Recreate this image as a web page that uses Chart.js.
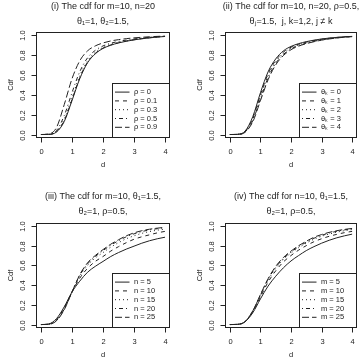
<!DOCTYPE html>
<html><head><meta charset="utf-8">
<script src="https://cdn.jsdelivr.net/npm/chart.js@4/dist/chart.umd.min.js"></script>
<style>
html,body{margin:0;padding:0;background:#fff}
body{width:360px;height:362px;position:relative;overflow:hidden}
canvas{position:absolute;display:block}
</style></head><body>
<canvas id="c1" width="180" height="190" style="left:0;top:0"></canvas>
<canvas id="c2" width="180" height="190" style="left:180px;top:0"></canvas>
<canvas id="c3" width="180" height="172" style="left:0;top:190px"></canvas>
<canvas id="c4" width="180" height="172" style="left:180px;top:190px"></canvas>
<script>
// ---- data ----
const dValues = [0,0.25,0.5,0.75,1,1.25,1.5,1.75,2,2.25,2.5,2.75,3,3.25,3.5,3.75,4];
const xTicks = [0,1,2,3,4];
const xTickLabels = ['0','1','2','3','4'];
const yTicks = [0,0.2,0.4,0.6,0.8,1.0];
const yTickLabels = ['0.0','0.2','0.4','0.6','0.8','1.0'];

// panel (i)
const rhoLabels = ['ρ = 0','ρ = 0.1','ρ = 0.3','ρ = 0.5','ρ = 0.9'];
const rho0  = [0,0.001,0.025,0.13,0.34,0.56,0.72,0.81,0.865,0.897,0.92,0.937,0.951,0.962,0.971,0.979,0.985];
const rho01 = [0,0.001,0.027,0.14,0.35,0.57,0.725,0.815,0.868,0.9,0.922,0.939,0.952,0.963,0.972,0.98,0.985];
const rho03 = [0,0.002,0.03,0.155,0.37,0.59,0.74,0.825,0.875,0.905,0.926,0.942,0.955,0.966,0.974,0.981,0.986];
const rho05 = [0,0.003,0.04,0.19,0.42,0.63,0.77,0.845,0.89,0.917,0.935,0.949,0.96,0.969,0.977,0.983,0.987];
const rho09 = [0,0.005,0.07,0.3,0.56,0.74,0.84,0.89,0.92,0.94,0.953,0.963,0.971,0.977,0.982,0.986,0.989];

// panel (ii)
const thetaLabels = ['θₖ = 0','θₖ = 1','θₖ = 2','θₖ = 3','θₖ = 4'];
const theta0 = [0,0.002,0.035,0.18,0.42,0.63,0.76,0.84,0.885,0.913,0.933,0.948,0.96,0.969,0.976,0.982,0.986];
const theta1 = [0,0.002,0.032,0.165,0.4,0.61,0.745,0.828,0.877,0.907,0.928,0.944,0.957,0.967,0.975,0.981,0.985];
const theta2 = [0,0.002,0.029,0.152,0.38,0.59,0.73,0.816,0.868,0.9,0.923,0.94,0.954,0.965,0.973,0.98,0.985];
const theta3 = [0,0.001,0.026,0.14,0.36,0.57,0.715,0.804,0.86,0.894,0.918,0.936,0.951,0.962,0.971,0.979,0.984];
const theta4 = [0,0.001,0.023,0.128,0.34,0.55,0.7,0.793,0.852,0.888,0.913,0.932,0.948,0.96,0.97,0.978,0.983];

// panel (iii)
const nLabels = ['n = 5','n = 10','n = 15','n = 20','n = 25'];
const n5  = [0,0.006,0.06,0.18,0.33,0.44,0.53,0.59,0.64,0.69,0.73,0.765,0.795,0.825,0.85,0.87,0.886];
const n10 = [0,0.004,0.05,0.17,0.33,0.47,0.57,0.64,0.69,0.745,0.79,0.83,0.865,0.89,0.91,0.93,0.945];
const n15 = [0,0.003,0.045,0.16,0.33,0.49,0.6,0.675,0.73,0.785,0.83,0.87,0.9,0.925,0.943,0.957,0.968];
const n20 = [0,0.003,0.04,0.155,0.33,0.5,0.615,0.69,0.75,0.805,0.85,0.89,0.92,0.943,0.96,0.972,0.98];
const n25 = [0,0.002,0.038,0.15,0.33,0.505,0.625,0.7,0.76,0.815,0.86,0.9,0.93,0.952,0.967,0.978,0.986];

// panel (iv)
const mLabels = ['m = 5','m = 10','m = 15','m = 20','m = 25'];
const m5  = [0,0.002,0.03,0.12,0.26,0.39,0.49,0.575,0.645,0.7,0.75,0.79,0.825,0.855,0.88,0.9,0.917];
const m10 = [0,0.002,0.03,0.13,0.28,0.43,0.545,0.635,0.7,0.755,0.8,0.84,0.87,0.895,0.915,0.932,0.945];
const m15 = [0,0.002,0.03,0.135,0.29,0.45,0.57,0.66,0.725,0.78,0.825,0.865,0.895,0.918,0.937,0.952,0.963];
const m20 = [0,0.002,0.03,0.14,0.3,0.46,0.58,0.67,0.735,0.79,0.835,0.875,0.905,0.928,0.946,0.96,0.97];
const m25 = [0,0.002,0.03,0.14,0.305,0.465,0.59,0.68,0.745,0.8,0.845,0.885,0.913,0.935,0.952,0.965,0.975];

const titles = [
  ['(i) The cdf for m=10, n=20', 'θ₁=1, θ₂=1.5,'],
  ['(ii) The cdf for m=10, n=20, ρ=0.5,', 'θⱼ=1.5,  j, k=1,2, j ≠ k'],
  ['(iii) The cdf for m=10, θ₁=1.5,', 'θ₂=1, ρ=0.5,'],
  ['(iv) The cdf for n=10, θ₁=1.5,', 'θ₂=1, ρ=0.5,']
];
const xTitle = 'd';
const yTitle = 'Cdf';

// ---- styles ----
const dashes = [[], [4,4], [1,3], [1,3,4,3], [7,3]];
const FONT = '"Liberation Sans", Arial, Helvetica, sans-serif';
const INK = '#222';

const rPlot = {
  id: 'rplot',
  afterDraw(chart, args, o) {
    const ctx = chart.ctx, a = chart.chartArea, xs = chart.scales.x, ys = chart.scales.y;
    ctx.save();
    ctx.strokeStyle = INK; ctx.fillStyle = INK; ctx.lineWidth = 1; ctx.setLineDash([]);
    const L = Math.round(a.left) + 0.5, R = Math.round(a.right) - 0.5;
    const T = Math.round(a.top) + 0.5, B = Math.round(a.bottom) - 0.5;
    const seg = (x1, y1, x2, y2) => { ctx.beginPath(); ctx.moveTo(x1, y1); ctx.lineTo(x2, y2); ctx.stroke(); };
    ctx.strokeRect(L, T, R - L, B - T);
    ctx.font = '7.5px ' + FONT;
    ctx.textAlign = 'center'; ctx.textBaseline = 'middle';
    xTicks.forEach((v, i) => {
      const px = Math.round(xs.getPixelForValue(v)) + 0.5;
      seg(px, B, px, B + 5);
      ctx.fillText(xTickLabels[i], px, B + 14);
    });
    yTicks.forEach((v, i) => {
      const py = Math.round(ys.getPixelForValue(v)) + 0.5;
      seg(L - 5, py, L, py);
      ctx.save(); ctx.translate(L - 14, py); ctx.rotate(-Math.PI / 2);
      ctx.fillText(yTickLabels[i], 0, 0); ctx.restore();
    });
    // axis titles
    ctx.fillText(xTitle, (L + R) / 2, B + 27.5);
    ctx.save(); ctx.translate(L - 26, (T + B) / 2); ctx.rotate(-Math.PI / 2);
    ctx.fillText(yTitle, 0, 0); ctx.restore();
    // main title
    ctx.font = '9px ' + FONT;
    ctx.fillText(o.title[0], (L + R) / 2, 6.5);
    ctx.fillText(o.title[1], (L + R) / 2, 22);
    // legend (bottom-right inside plot)
    const lw = 57, lh = 54;
    const lx = R - lw, ly = B - lh;
    ctx.strokeRect(lx, ly, lw, lh);
    ctx.font = '7.5px ' + FONT;
    ctx.textAlign = 'left';
    chart.data.datasets.forEach((ds, i) => {
      const yy = ly + 8.6 + 8.8 * i;
      ctx.setLineDash(ds.borderDash || []);
      seg(lx + 2.5, yy, lx + 17, yy);
      ctx.setLineDash([]);
      ctx.fillText(ds.label, lx + 21.5, yy);
    });
    ctx.restore();
  }
};

function makeChart(id, labels, series, title, pad) {
  const datasets = series.map((s, i) => ({
    label: labels[i],
    data: dValues.map((d, k) => ({x: d, y: s[k]})),
    borderColor: INK,
    borderWidth: 1,
    borderDash: dashes[i],
    pointRadius: 0,
    fill: false,
    cubicInterpolationMode: 'monotone'
  }));
  new Chart(document.getElementById(id), {
    type: 'line',
    data: {datasets},
    options: {
      responsive: false,
      animation: false,
      events: [],
      layout: {padding: pad},
      scales: {
        x: {type: 'linear', min: -0.16, max: 4.16, display: false},
        y: {type: 'linear', min: -0.035, max: 1.03, display: false}
      },
      plugins: {
        legend: {display: false},
        title: {display: false},
        tooltip: {enabled: false},
        rplot: {title}
      }
    },
    plugins: [rPlot]
  });
}

makeChart('c1', rhoLabels, [rho0, rho01, rho03, rho05, rho09], titles[0], {left: 36, right: 10, top: 32, bottom: 52});
makeChart('c2', thetaLabels, [theta0, theta1, theta2, theta3, theta4], titles[1], {left: 45, right: 3, top: 32, bottom: 52});
makeChart('c3', nLabels, [n5, n10, n15, n20, n25], titles[2], {left: 36, right: 10, top: 33, bottom: 34});
makeChart('c4', mLabels, [m5, m10, m15, m20, m25], titles[3], {left: 45, right: 3, top: 33, bottom: 34});
</script>
</body></html>
